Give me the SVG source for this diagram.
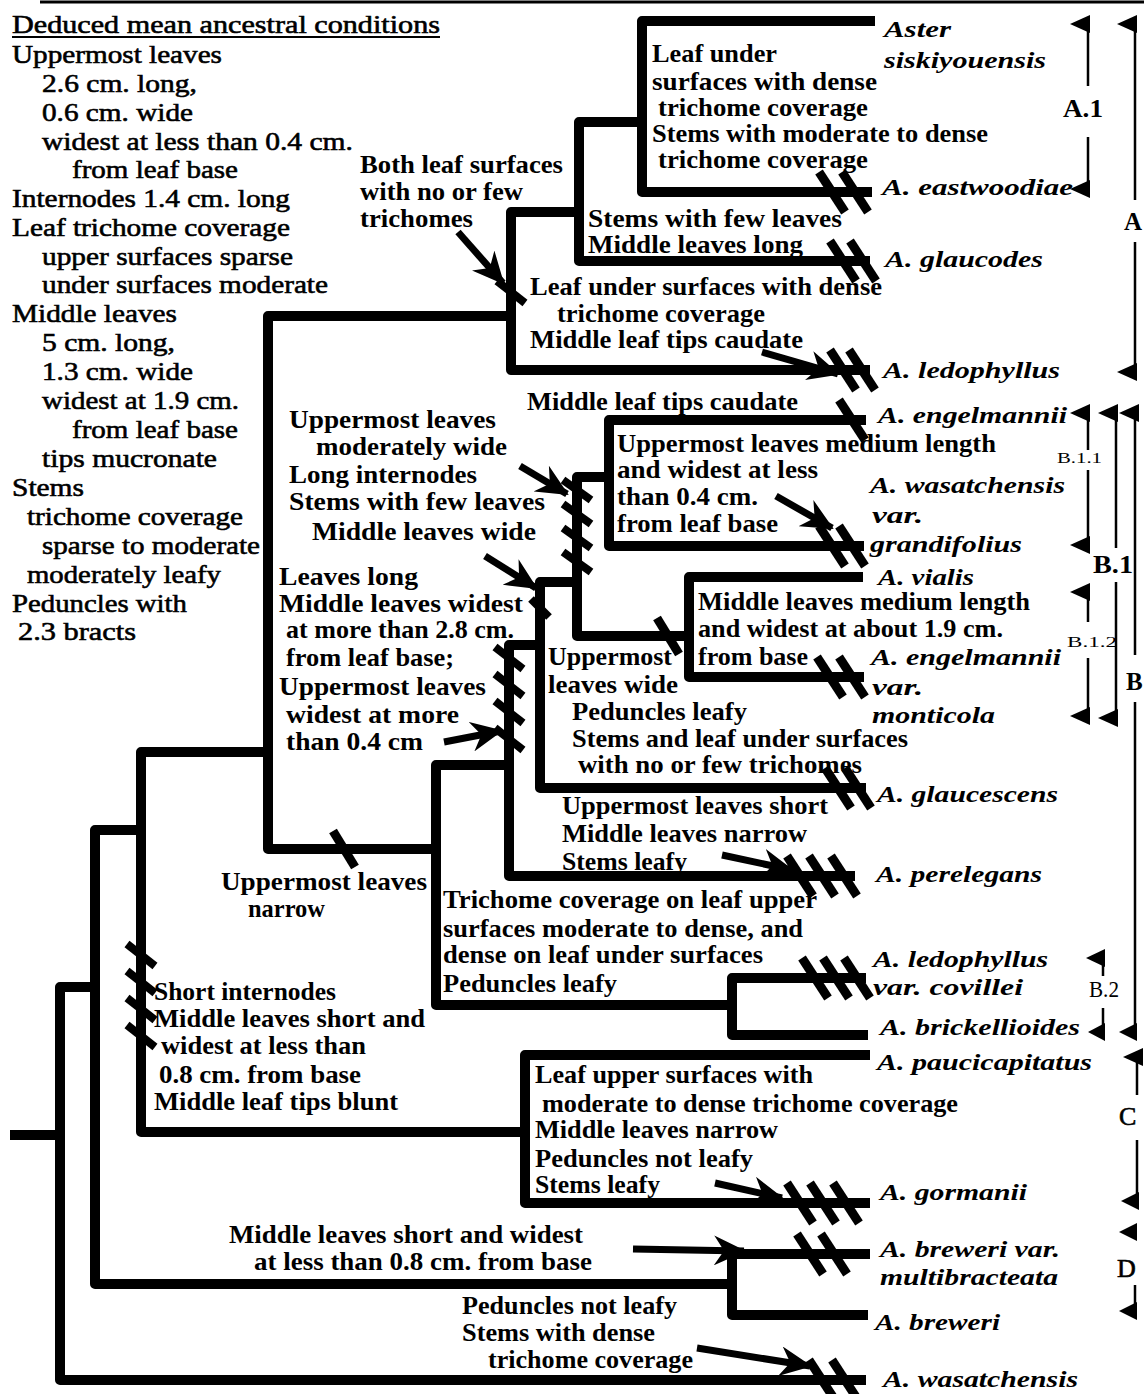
<svg xmlns="http://www.w3.org/2000/svg" width="1144" height="1394" viewBox="0 0 1144 1394">
<defs>
<marker id="ah" markerUnits="userSpaceOnUse" markerWidth="34" markerHeight="30" refX="30" refY="15" orient="auto"><path d="M0,0 L32,15 L0,30 L10,15 z" fill="#000"/></marker>
<style>
.br{fill:none;stroke:#000;stroke-width:10;stroke-linejoin:round}
.mk{stroke:#000;stroke-width:9}
.zz{stroke:#000;stroke-width:8}
.ar{fill:none;stroke:#000;stroke-width:7;marker-end:url(#ah)}
.th{fill:none;stroke:#000;stroke-width:2.5}
.fl{fill:#000}
text{font-family:"Liberation Serif","Times New Roman",serif;fill:#000}
.lt{font-size:26px;stroke:#000;stroke-width:0.6}
.cl{font-size:25px;font-weight:bold}
.sp{font-size:24px;font-weight:bold;font-style:italic}
.bk{font-size:25px;font-weight:bold}
.bs{font-size:15px}
</style>
</defs>
<rect width="1144" height="1394" fill="#fff"/>
<line x1="40" y1="2" x2="1144" y2="2" stroke="#000" stroke-width="3"/>

<g id="ancestral">
<text class="lt" x="12" y="33" textLength="428" lengthAdjust="spacingAndGlyphs">Deduced mean ancestral conditions</text>
<line x1="12" y1="37" x2="440" y2="37" stroke="#000" stroke-width="2"/>
<text class="lt" x="12" y="63" textLength="210" lengthAdjust="spacingAndGlyphs">Uppermost leaves</text>
<text class="lt" x="42" y="92" textLength="155" lengthAdjust="spacingAndGlyphs">2.6 cm. long,</text>
<text class="lt" x="42" y="121" textLength="151" lengthAdjust="spacingAndGlyphs">0.6 cm. wide</text>
<text class="lt" x="42" y="150" textLength="311" lengthAdjust="spacingAndGlyphs">widest at less than 0.4 cm.</text>
<text class="lt" x="72" y="178" textLength="166" lengthAdjust="spacingAndGlyphs">from leaf base</text>
<text class="lt" x="12" y="207" textLength="278" lengthAdjust="spacingAndGlyphs">Internodes 1.4 cm. long</text>
<text class="lt" x="12" y="236" textLength="278" lengthAdjust="spacingAndGlyphs">Leaf trichome coverage</text>
<text class="lt" x="42" y="265" textLength="251" lengthAdjust="spacingAndGlyphs">upper surfaces sparse</text>
<text class="lt" x="42" y="293" textLength="286" lengthAdjust="spacingAndGlyphs">under surfaces moderate</text>
<text class="lt" x="12" y="322" textLength="165" lengthAdjust="spacingAndGlyphs">Middle leaves</text>
<text class="lt" x="42" y="351" textLength="133" lengthAdjust="spacingAndGlyphs">5 cm. long,</text>
<text class="lt" x="42" y="380" textLength="151" lengthAdjust="spacingAndGlyphs">1.3 cm. wide</text>
<text class="lt" x="42" y="409" textLength="197" lengthAdjust="spacingAndGlyphs">widest at 1.9 cm.</text>
<text class="lt" x="72" y="438" textLength="166" lengthAdjust="spacingAndGlyphs">from leaf base</text>
<text class="lt" x="42" y="467" textLength="175" lengthAdjust="spacingAndGlyphs">tips mucronate</text>
<text class="lt" x="12" y="496" textLength="72" lengthAdjust="spacingAndGlyphs">Stems</text>
<text class="lt" x="27" y="525" textLength="216" lengthAdjust="spacingAndGlyphs">trichome coverage</text>
<text class="lt" x="42" y="554" textLength="218" lengthAdjust="spacingAndGlyphs">sparse to moderate</text>
<text class="lt" x="27" y="583" textLength="194" lengthAdjust="spacingAndGlyphs">moderately leafy</text>
<text class="lt" x="12" y="612" textLength="175" lengthAdjust="spacingAndGlyphs">Peduncles with</text>
<text class="lt" x="18" y="640" textLength="118" lengthAdjust="spacingAndGlyphs">2.3 bracts</text>
</g>

<g id="connectors">
<path class="br" d="M10,1135 H60"/>
<path class="br" d="M95,987 H60 V1380 H866"/>
<path class="br" d="M141,830 H95 V1284 H732"/>
<path class="br" d="M870,1254 H732 V1315 H868"/>
<path class="br" d="M268,752 H141 V1132 H525"/>
<path class="br" d="M870,1055 H525 V1203 H870"/>
<path class="br" d="M511,316 H268 V849 H436"/>
<path class="br" d="M579,212 H511 V370 H870"/>
<path class="br" d="M642,122 H579 V261 H870"/>
<path class="br" d="M875,21 H642 V192 H872"/>
<path class="br" d="M509,765 H436 V1005 H732"/>
<path class="br" d="M866,978 H732 V1035 H868"/>
<path class="br" d="M540,645 H509 V876 H855"/>
<path class="br" d="M577,582 H540 V788 H866"/>
<path class="br" d="M609,477 H577 V636 H689"/>
<path class="br" d="M866,420 H609 V546 H864"/>
<path class="br" d="M863,577 H689 V677 H864"/>
</g>

<g id="apomorphies">
<line class="mk" x1="819" y1="172" x2="845" y2="212"/>
<line class="mk" x1="842" y1="172" x2="868" y2="212"/>
<line class="mk" x1="830" y1="241" x2="856" y2="281"/>
<line class="mk" x1="850" y1="241" x2="876" y2="281"/>
<line class="mk" x1="830" y1="350" x2="856" y2="390"/>
<line class="mk" x1="849" y1="350" x2="875" y2="390"/>
<line class="mk" x1="839" y1="400" x2="865" y2="440"/>
<line class="mk" x1="819" y1="526" x2="845" y2="566"/>
<line class="mk" x1="839" y1="526" x2="865" y2="566"/>
<line class="mk" x1="657" y1="618" x2="679" y2="654"/>
<line class="mk" x1="817" y1="657" x2="843" y2="697"/>
<line class="mk" x1="839" y1="657" x2="865" y2="697"/>
<line class="mk" x1="825" y1="768" x2="851" y2="808"/>
<line class="mk" x1="845" y1="768" x2="871" y2="808"/>
<line class="mk" x1="787" y1="856" x2="813" y2="896"/>
<line class="mk" x1="809" y1="856" x2="835" y2="896"/>
<line class="mk" x1="831" y1="856" x2="857" y2="896"/>
<line class="mk" x1="802" y1="958" x2="828" y2="998"/>
<line class="mk" x1="823" y1="958" x2="849" y2="998"/>
<line class="mk" x1="844" y1="958" x2="870" y2="998"/>
<line class="mk" x1="787" y1="1183" x2="813" y2="1223"/>
<line class="mk" x1="810" y1="1183" x2="836" y2="1223"/>
<line class="mk" x1="833" y1="1183" x2="859" y2="1223"/>
<line class="mk" x1="797" y1="1234" x2="823" y2="1274"/>
<line class="mk" x1="821" y1="1234" x2="847" y2="1274"/>
<line class="mk" x1="809" y1="1360" x2="835" y2="1400"/>
<line class="mk" x1="832" y1="1360" x2="858" y2="1400"/>
<line class="mk" x1="333" y1="831" x2="355" y2="867"/>
<line class="zz" x1="127" y1="944" x2="155" y2="966"/>
<line class="zz" x1="127" y1="971" x2="155" y2="993"/>
<line class="zz" x1="127" y1="998" x2="155" y2="1020"/>
<line class="zz" x1="127" y1="1025" x2="155" y2="1047"/>
<line class="zz" x1="495" y1="647" x2="523" y2="669"/>
<line class="zz" x1="495" y1="674" x2="523" y2="696"/>
<line class="zz" x1="495" y1="701" x2="523" y2="723"/>
<line class="zz" x1="495" y1="728" x2="523" y2="750"/>
<line class="zz" x1="563" y1="480" x2="591" y2="500"/>
<line class="zz" x1="563" y1="504" x2="591" y2="524"/>
<line class="zz" x1="563" y1="528" x2="591" y2="548"/>
<line class="zz" x1="563" y1="552" x2="591" y2="572"/>
<line class="zz" x1="497" y1="281" x2="525" y2="303"/>
<line class="zz" x1="531" y1="599" x2="549" y2="617"/>
<path class="ar" d="M458,232 L503,283"/>
<path class="ar" d="M762,352 L838,374"/>
<path class="ar" d="M776,496 L832,528"/>
<path class="ar" d="M722,855 L792,870"/>
<path class="ar" d="M715,1183 L782,1198"/>
<path class="ar" d="M633,1249 L744,1251"/>
<path class="ar" d="M697,1348 L810,1366"/>
<path class="ar" d="M444,742 L501,731"/>
<path class="ar" d="M520,466 L567,494"/>
<path class="ar" d="M485,556 L536,588"/>
</g>

<g id="clade-A-labels">
<text class="cl" x="652" y="62" textLength="125" lengthAdjust="spacingAndGlyphs">Leaf under</text>
<text class="cl" x="652" y="90" textLength="225" lengthAdjust="spacingAndGlyphs">surfaces with dense</text>
<text class="cl" x="658" y="116" textLength="210" lengthAdjust="spacingAndGlyphs">trichome coverage</text>
<text class="cl" x="652" y="142" textLength="336" lengthAdjust="spacingAndGlyphs">Stems with moderate to dense</text>
<text class="cl" x="658" y="168" textLength="210" lengthAdjust="spacingAndGlyphs">trichome coverage</text>
<text class="cl" x="360" y="173" textLength="203" lengthAdjust="spacingAndGlyphs">Both leaf surfaces</text>
<text class="cl" x="360" y="200" textLength="163" lengthAdjust="spacingAndGlyphs">with no or few</text>
<text class="cl" x="360" y="227" textLength="113" lengthAdjust="spacingAndGlyphs">trichomes</text>
<text class="cl" x="588" y="227" textLength="254" lengthAdjust="spacingAndGlyphs">Stems with few leaves</text>
<text class="cl" x="588" y="253" textLength="215" lengthAdjust="spacingAndGlyphs">Middle leaves long</text>
<text class="cl" x="530" y="295" textLength="352" lengthAdjust="spacingAndGlyphs">Leaf under surfaces with dense</text>
<text class="cl" x="557" y="322" textLength="208" lengthAdjust="spacingAndGlyphs">trichome coverage</text>
<text class="cl" x="530" y="348" textLength="273" lengthAdjust="spacingAndGlyphs">Middle leaf tips caudate</text>
</g>

<g id="clade-B-labels">
<text class="cl" x="527" y="410" textLength="271" lengthAdjust="spacingAndGlyphs">Middle leaf tips caudate</text>
<text class="cl" x="289" y="428" textLength="207" lengthAdjust="spacingAndGlyphs">Uppermost leaves</text>
<text class="cl" x="316" y="455" textLength="191" lengthAdjust="spacingAndGlyphs">moderately wide</text>
<text class="cl" x="289" y="483" textLength="188" lengthAdjust="spacingAndGlyphs">Long internodes</text>
<text class="cl" x="289" y="510" textLength="256" lengthAdjust="spacingAndGlyphs">Stems with few leaves</text>
<text class="cl" x="312" y="540" textLength="224" lengthAdjust="spacingAndGlyphs">Middle leaves wide</text>
<text class="cl" x="617" y="452" textLength="379" lengthAdjust="spacingAndGlyphs">Uppermost leaves medium length</text>
<text class="cl" x="617" y="478" textLength="201" lengthAdjust="spacingAndGlyphs">and widest at less</text>
<text class="cl" x="617" y="505" textLength="141" lengthAdjust="spacingAndGlyphs">than 0.4 cm.</text>
<text class="cl" x="617" y="532" textLength="161" lengthAdjust="spacingAndGlyphs">from leaf base</text>
<text class="cl" x="279" y="585" textLength="139" lengthAdjust="spacingAndGlyphs">Leaves long</text>
<text class="cl" x="279" y="612" textLength="244" lengthAdjust="spacingAndGlyphs">Middle leaves widest</text>
<text class="cl" x="286" y="638" textLength="228" lengthAdjust="spacingAndGlyphs">at more than 2.8 cm.</text>
<text class="cl" x="286" y="666" textLength="168" lengthAdjust="spacingAndGlyphs">from leaf base;</text>
<text class="cl" x="279" y="695" textLength="207" lengthAdjust="spacingAndGlyphs">Uppermost leaves</text>
<text class="cl" x="286" y="723" textLength="173" lengthAdjust="spacingAndGlyphs">widest at more</text>
<text class="cl" x="286" y="750" textLength="137" lengthAdjust="spacingAndGlyphs">than 0.4 cm</text>
<text class="cl" x="698" y="610" textLength="332" lengthAdjust="spacingAndGlyphs">Middle leaves medium length</text>
<text class="cl" x="698" y="637" textLength="305" lengthAdjust="spacingAndGlyphs">and widest at about 1.9 cm.</text>
<text class="cl" x="698" y="665" textLength="110" lengthAdjust="spacingAndGlyphs">from base</text>
<text class="cl" x="548" y="665" textLength="124" lengthAdjust="spacingAndGlyphs">Uppermost</text>
<text class="cl" x="548" y="693" textLength="130" lengthAdjust="spacingAndGlyphs">leaves wide</text>
<text class="cl" x="572" y="720" textLength="175" lengthAdjust="spacingAndGlyphs">Peduncles leafy</text>
<text class="cl" x="572" y="747" textLength="336" lengthAdjust="spacingAndGlyphs">Stems and leaf under surfaces</text>
<text class="cl" x="578" y="773" textLength="284" lengthAdjust="spacingAndGlyphs">with no or few trichomes</text>
<text class="cl" x="562" y="814" textLength="266" lengthAdjust="spacingAndGlyphs">Uppermost leaves short</text>
<text class="cl" x="562" y="842" textLength="245" lengthAdjust="spacingAndGlyphs">Middle leaves narrow</text>
<text class="cl" x="562" y="870" textLength="125" lengthAdjust="spacingAndGlyphs">Stems leafy</text>
<text class="cl" x="221" y="890" textLength="206" lengthAdjust="spacingAndGlyphs">Uppermost leaves</text>
<text class="cl" x="248" y="917" textLength="77" lengthAdjust="spacingAndGlyphs">narrow</text>
<text class="cl" x="443" y="908" textLength="374" lengthAdjust="spacingAndGlyphs">Trichome coverage on leaf upper</text>
<text class="cl" x="443" y="937" textLength="360" lengthAdjust="spacingAndGlyphs">surfaces moderate to dense, and</text>
<text class="cl" x="443" y="963" textLength="320" lengthAdjust="spacingAndGlyphs">dense on leaf under surfaces</text>
<text class="cl" x="443" y="992" textLength="174" lengthAdjust="spacingAndGlyphs">Peduncles leafy</text>
</g>

<g id="clade-CD-labels">
<text class="cl" x="154" y="1000" textLength="182" lengthAdjust="spacingAndGlyphs">Short internodes</text>
<text class="cl" x="154" y="1027" textLength="271" lengthAdjust="spacingAndGlyphs">Middle leaves short and</text>
<text class="cl" x="161" y="1054" textLength="205" lengthAdjust="spacingAndGlyphs">widest at less than</text>
<text class="cl" x="159" y="1083" textLength="202" lengthAdjust="spacingAndGlyphs">0.8 cm. from base</text>
<text class="cl" x="154" y="1110" textLength="244" lengthAdjust="spacingAndGlyphs">Middle leaf tips blunt</text>
<text class="cl" x="535" y="1083" textLength="278" lengthAdjust="spacingAndGlyphs">Leaf upper surfaces with</text>
<text class="cl" x="542" y="1112" textLength="416" lengthAdjust="spacingAndGlyphs">moderate to dense trichome coverage</text>
<text class="cl" x="535" y="1138" textLength="243" lengthAdjust="spacingAndGlyphs">Middle leaves narrow</text>
<text class="cl" x="535" y="1167" textLength="218" lengthAdjust="spacingAndGlyphs">Peduncles not leafy</text>
<text class="cl" x="535" y="1193" textLength="125" lengthAdjust="spacingAndGlyphs">Stems leafy</text>
<text class="cl" x="229" y="1243" textLength="354" lengthAdjust="spacingAndGlyphs">Middle leaves short and widest</text>
<text class="cl" x="254" y="1270" textLength="338" lengthAdjust="spacingAndGlyphs">at less than 0.8 cm. from base</text>
<text class="cl" x="462" y="1314" textLength="215" lengthAdjust="spacingAndGlyphs">Peduncles not leafy</text>
<text class="cl" x="462" y="1341" textLength="193" lengthAdjust="spacingAndGlyphs">Stems with dense</text>
<text class="cl" x="488" y="1368" textLength="205" lengthAdjust="spacingAndGlyphs">trichome coverage</text>
</g>

<g id="taxa">
<text class="sp" x="884" y="37" textLength="67" lengthAdjust="spacingAndGlyphs">Aster</text>
<text class="sp" x="884" y="68" textLength="162" lengthAdjust="spacingAndGlyphs">siskiyouensis</text>
<text class="sp" x="882" y="195" textLength="191" lengthAdjust="spacingAndGlyphs">A. eastwoodiae</text>
<text class="sp" x="885" y="267" textLength="158" lengthAdjust="spacingAndGlyphs">A. glaucodes</text>
<text class="sp" x="883" y="378" textLength="177" lengthAdjust="spacingAndGlyphs">A. ledophyllus</text>
<text class="sp" x="878" y="423" textLength="189" lengthAdjust="spacingAndGlyphs">A. engelmannii</text>
<text class="sp" x="870" y="493" textLength="195" lengthAdjust="spacingAndGlyphs">A. wasatchensis</text>
<text class="sp" x="872" y="523" textLength="51" lengthAdjust="spacingAndGlyphs">var.</text>
<text class="sp" x="870" y="552" textLength="152" lengthAdjust="spacingAndGlyphs">grandifolius</text>
<text class="sp" x="878" y="585" textLength="96" lengthAdjust="spacingAndGlyphs">A. vialis</text>
<text class="sp" x="871" y="665" textLength="190" lengthAdjust="spacingAndGlyphs">A. engelmannii</text>
<text class="sp" x="872" y="695" textLength="51" lengthAdjust="spacingAndGlyphs">var.</text>
<text class="sp" x="872" y="723" textLength="123" lengthAdjust="spacingAndGlyphs">monticola</text>
<text class="sp" x="877" y="802" textLength="181" lengthAdjust="spacingAndGlyphs">A. glaucescens</text>
<text class="sp" x="876" y="882" textLength="166" lengthAdjust="spacingAndGlyphs">A. perelegans</text>
<text class="sp" x="873" y="967" textLength="175" lengthAdjust="spacingAndGlyphs">A. ledophyllus</text>
<text class="sp" x="873" y="995" textLength="150" lengthAdjust="spacingAndGlyphs">var.  covillei</text>
<text class="sp" x="880" y="1035" textLength="200" lengthAdjust="spacingAndGlyphs">A. brickellioides</text>
<text class="sp" x="877" y="1070" textLength="215" lengthAdjust="spacingAndGlyphs">A. paucicapitatus</text>
<text class="sp" x="880" y="1200" textLength="147" lengthAdjust="spacingAndGlyphs">A. gormanii</text>
<text class="sp" x="880" y="1257" textLength="180" lengthAdjust="spacingAndGlyphs">A. breweri var.</text>
<text class="sp" x="880" y="1285" textLength="178" lengthAdjust="spacingAndGlyphs">multibracteata</text>
<text class="sp" x="875" y="1330" textLength="125" lengthAdjust="spacingAndGlyphs">A. breweri</text>
<text class="sp" x="883" y="1387" textLength="195" lengthAdjust="spacingAndGlyphs">A. wasatchensis</text>
</g>

<g id="brackets">
<path class="th" d="M1088,24 V86 M1088,137 V189"/>
<polygon class="fl" points="1070,24 1090,15 1090,33"/>
<polygon class="fl" points="1070,189 1090,180 1090,198"/>
<text class="bk" x="1063" y="117" textLength="40" lengthAdjust="spacingAndGlyphs">A.1</text>
<path class="th" d="M1135,24 V200 M1135,242 V372"/>
<polygon class="fl" points="1117,24 1137,15 1137,33"/>
<polygon class="fl" points="1117,372 1137,363 1137,381"/>
<text class="bk" x="1124" y="230">A</text>
<path class="th" d="M1088,413 V450 M1088,470 V545"/>
<polygon class="fl" points="1070,413 1090,404 1090,422"/>
<polygon class="fl" points="1070,545 1090,536 1090,554"/>
<text class="bs" x="1057" y="463" textLength="45" lengthAdjust="spacingAndGlyphs">B.1.1</text>
<path class="th" d="M1116,413 V548 M1116,582 V718"/>
<polygon class="fl" points="1098,413 1118,404 1118,422"/>
<polygon class="fl" points="1098,718 1118,709 1118,727"/>
<text class="bk" x="1093" y="573" textLength="40" lengthAdjust="spacingAndGlyphs">B.1</text>
<path class="th" d="M1135,413 V655 M1135,702 V1032"/>
<polygon class="fl" points="1119,413 1139,404 1139,422"/>
<polygon class="fl" points="1119,1032 1137,1023 1137,1041"/>
<text class="bk" x="1126" y="690">B</text>
<path class="th" d="M1088,592 V622 M1088,658 V716"/>
<polygon class="fl" points="1070,592 1090,583 1090,601"/>
<polygon class="fl" points="1070,716 1090,707 1090,725"/>
<text class="bs" x="1067" y="647" textLength="50" lengthAdjust="spacingAndGlyphs">B.1.2</text>
<path class="th" d="M1103,958 V976 M1103,1008 V1032"/>
<polygon class="fl" points="1086,958 1105,949 1105,967"/>
<polygon class="fl" points="1088,1032 1105,1023 1105,1041"/>
<text x="1089" y="997" font-family="Liberation Sans, Arial, sans-serif" font-size="24" textLength="30" lengthAdjust="spacingAndGlyphs">B.2</text>
<path class="th" d="M1137,1057 V1095 M1137,1140 V1201"/>
<polygon class="fl" points="1123,1057 1143,1048 1143,1066"/>
<polygon class="fl" points="1121,1201 1139,1192 1139,1210"/>
<text class="lt" x="1119" y="1125">C</text>
<path class="th" d="M1135,1285 V1311"/>
<polygon class="fl" points="1119,1232 1137,1223 1137,1241"/>
<polygon class="fl" points="1119,1311 1137,1302 1137,1320"/>
<text class="lt" x="1117" y="1277">D</text>
</g>
</svg>
